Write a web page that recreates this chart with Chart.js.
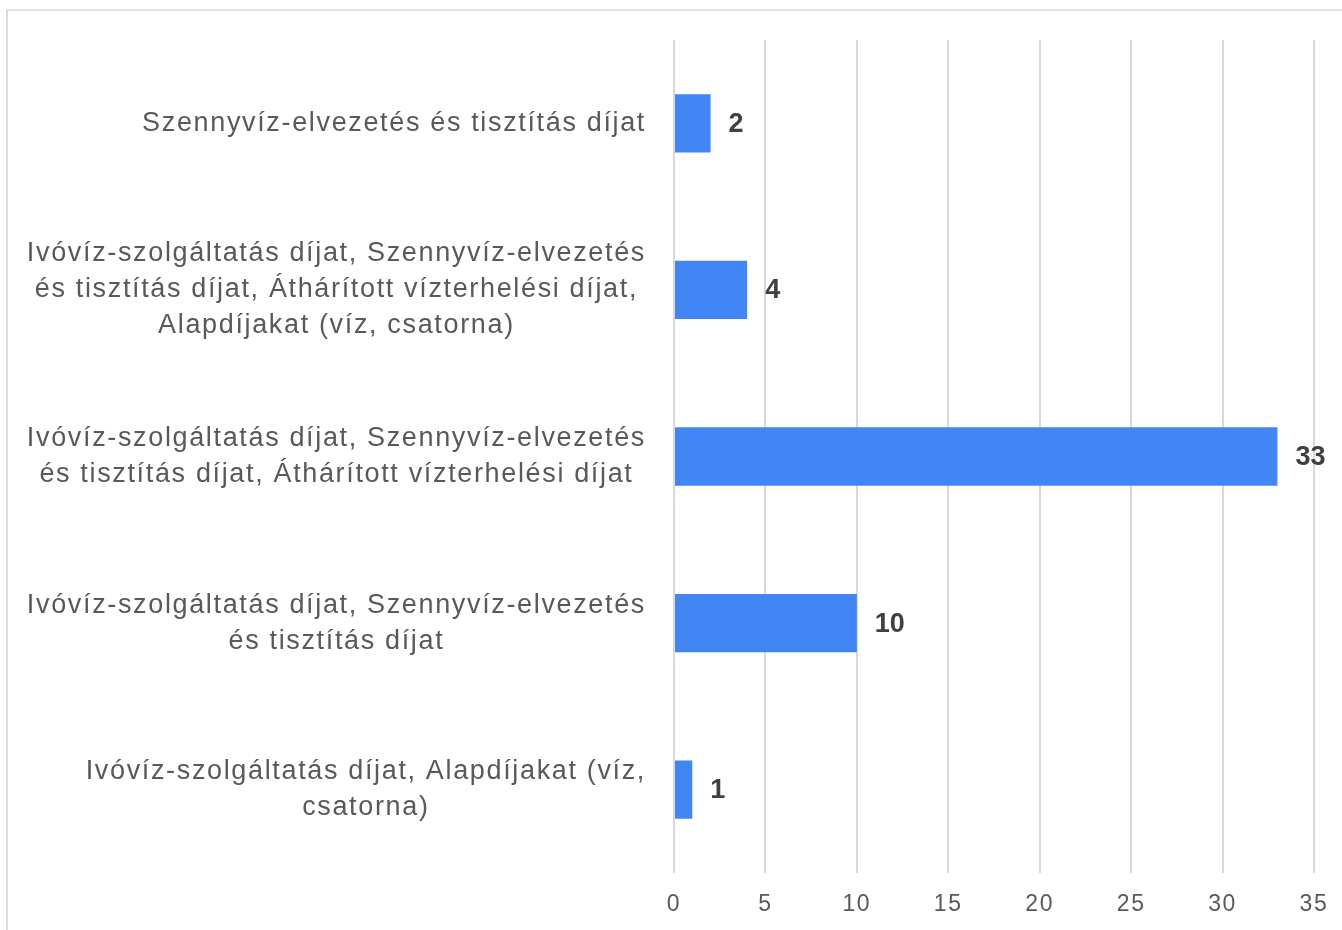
<!DOCTYPE html>
<html>
<head>
<meta charset="utf-8">
<script src="https://cdn.jsdelivr.net/npm/chart.js@4"></script>
<style>
  html, body { margin: 0; padding: 0; background: #fff; overflow: hidden; }
  #frame { position: absolute; left: 6px; top: 9px; width: 1400px; height: 1000px;
           border-top: 2px solid #e3e3e3; border-left: 2px solid #dcdcdc; }
  #wrap { position: absolute; left: 0; top: 0; width: 1342px; height: 930px; }
</style>
</head>
<body>
<div id="frame"></div>
<div id="wrap"><canvas id="chart"></canvas></div>
<script>
// kategóriák fentről lefelé, több soros címkékkel
const categories = [
  ['Szennyvíz-elvezetés és tisztítás díjat'],
  ['Ivóvíz-szolgáltatás díjat, Szennyvíz-elvezetés', 'és tisztítás díjat, Áthárított vízterhelési díjat,', 'Alapdíjakat (víz, csatorna)'],
  ['Ivóvíz-szolgáltatás díjat, Szennyvíz-elvezetés', 'és tisztítás díjat, Áthárított vízterhelési díjat'],
  ['Ivóvíz-szolgáltatás díjat, Szennyvíz-elvezetés', 'és tisztítás díjat'],
  ['Ivóvíz-szolgáltatás díjat, Alapdíjakat (víz,', 'csatorna)']
];
const counts = [2, 4, 33, 10, 1];
const xTicks = [0, 5, 10, 15, 20, 25, 30, 35];

const FONT = '"Liberation Sans", Arial, sans-serif';

// a szövegek ritkított betűközzel jelennek meg az eredetin
const spacing = {
  id: 'spacing',
  beforeDraw(chart) { chart.ctx.letterSpacing = '1.65px'; }
};

// kategóriacímkék: a blokk jobbra igazítva, a sorok középre
const categoryLabels = {
  id: 'categoryLabels',
  afterDraw(chart) {
    const ctx = chart.ctx;
    const yScale = chart.scales.y;
    const right = chart.chartArea.left - 28;
    const lineH = 36;
    ctx.save();
    ctx.letterSpacing = '1.65px';
    ctx.font = '27px ' + FONT;
    ctx.fillStyle = '#595959';
    ctx.textAlign = 'center';
    ctx.textBaseline = 'middle';
    categories.forEach((lines, i) => {
      const widest = Math.max(...lines.map(l => ctx.measureText(l).width));
      const cx = right - widest / 2;
      const cy = yScale.getPixelForValue(i);
      const y0 = cy - (lines.length - 1) * lineH / 2;
      lines.forEach((l, j) => ctx.fillText(l, cx, y0 + j * lineH));
    });
    ctx.restore();
  }
};

// értékcímkék a sávok végére
const valueLabels = {
  id: 'valueLabels',
  afterDatasetsDraw(chart) {
    const ctx = chart.ctx;
    const meta = chart.getDatasetMeta(0);
    ctx.save();
    ctx.letterSpacing = '0px';
    ctx.font = 'bold 27px ' + FONT;
    ctx.fillStyle = '#404040';
    ctx.textAlign = 'left';
    ctx.textBaseline = 'middle';
    meta.data.forEach((bar, i) => {
      ctx.fillText(String(counts[i]), bar.x + 18, bar.y + 1);
    });
    ctx.restore();
  }
};

new Chart(document.getElementById('chart').getContext('2d'), {
  type: 'bar',
  data: {
    labels: categories.map(c => c.join(' ')),
    datasets: [{
      data: counts,
      backgroundColor: '#4285f4',
      categoryPercentage: 1,
      barPercentage: 0.35
    }]
  },
  options: {
    indexAxis: 'y',
    responsive: true,
    maintainAspectRatio: false,
    animation: false,
    layout: { autoPadding: false, padding: { top: 40, right: 28, left: 0, bottom: 0 } },
    plugins: { legend: { display: false }, tooltip: { enabled: false } },
    scales: {
      x: {
        min: 0,
        max: 35,
        afterBuildTicks: scale => { scale.ticks = xTicks.map(v => ({ value: v })); },
        afterFit: scale => { scale.height = 57; scale.paddingLeft = 0; scale.paddingRight = 0; },
        grid: { color: '#d9d9d9', lineWidth: 2, drawTicks: false },
        border: { display: false },
        ticks: {
          color: '#595959',
          padding: 18,
          font: { family: FONT, size: 23 }
        }
      },
      y: {
        afterFit: scale => { scale.width = 674; scale.paddingTop = 0; scale.paddingBottom = 0; },
        grid: { display: false, drawTicks: false },
        border: { display: false },
        ticks: { display: false }
      }
    }
  },
  plugins: [spacing, categoryLabels, valueLabels]
});
</script>
</body>
</html>
